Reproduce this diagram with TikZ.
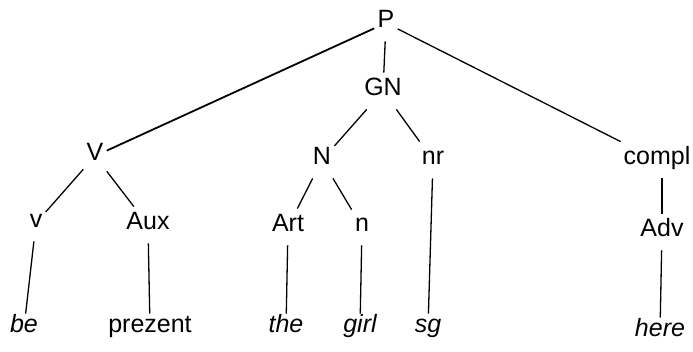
\documentclass[tikz,border=0pt]{standalone}
\usepackage{fontspec}
\setmainfont{Liberation Sans}
\newlength{\du}
\setlength{\du}{0.5pt}
\tikzset{
  lbl/.style={anchor=base, inner sep=1.5pt, text height=10pt, text depth=5pt,
    font=\fontsize{12.5}{15}\selectfont},
  word/.style={lbl, text height=8pt, text depth=3pt},
  leaf/.style={word, font=\fontsize{12.5}{15}\selectfont\itshape},
  branch/.style={line width=1.3\du}
}

\begin{document}
\begin{tikzpicture}
  \pgftransformxscale{1.000000}
  \pgftransformyscale{-1.000000}
  \useasboundingbox (0\du,0\du) rectangle (693\du,352\du);
  % top
  \node[lbl] (P) at (386.000000\du,28.000000\du){P};
  \node[lbl] (GN) at (383.000000\du,96.000000\du){GN};
  % second row
  \node[lbl] (V) at (95.000000\du,161.000000\du){V};
  \node[lbl] (N) at (322.000000\du,165.000000\du){N};
  \node[lbl] (nr) at (433.000000\du,165.000000\du){nr};
  \node[lbl] (compl) at (657.000000\du,165.000000\du){compl};
  % third row
  \node[lbl] (v) at (36.000000\du,228.000000\du){v};
  \node[lbl] (Aux) at (148.000000\du,230.000000\du){Aux};
  \node[lbl] (Art) at (288.000000\du,232.000000\du){Art};
  \node[lbl] (n) at (362.000000\du,232.000000\du){n};
  \node[lbl] (Adv) at (662.000000\du,237.000000\du){Adv};
  % words
  \node[leaf] (be) at (24.000000\du,333.000000\du){be};
  \node[word] (prezent) at (150.000000\du,333.000000\du){prezent};
  \node[leaf] (the) at (286.000000\du,333.000000\du){the};
  \node[leaf] (girl) at (360.000000\du,333.000000\du){girl};
  \node[leaf] (sg) at (428.000000\du,333.000000\du){sg};
  \node[leaf] (here) at (660.000000\du,337.000000\du){here};
  % branches
  \draw[branch, line width=1.8\du] (P) -- (V);
  \draw[branch] (P) -- (GN);
  \draw[branch] (P) -- (compl);
  \draw[branch] (GN) -- (N);
  \draw[branch] (GN) -- (nr);
  \draw[branch] (V) -- (v);
  \draw[branch] (V) -- (Aux);
  \draw[branch] (N) -- (Art);
  \draw[branch] (N) -- (n);
  \draw[branch] (v) -- (be);
  \draw[branch] (Aux) -- (prezent);
  \draw[branch] (Art) -- (the);
  \draw[branch] (n) -- (girl);
  \draw[branch] (nr) -- (sg);
  \draw[branch] (Adv) -- (Adv |- compl.south);
  \draw[branch] (Adv) -- (here);
\end{tikzpicture}
\end{document}
